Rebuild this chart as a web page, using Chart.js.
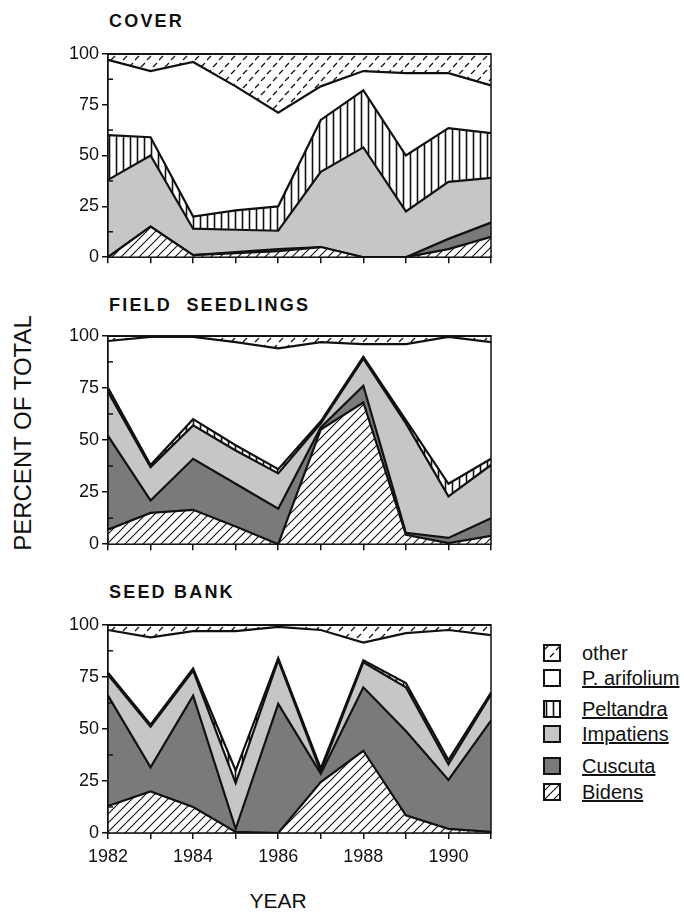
<!DOCTYPE html>
<html>
<head>
<meta charset="utf-8">
<script src="https://cdn.jsdelivr.net/npm/chart.js@4.4.1/dist/chart.umd.min.js"></script>
<style>
  body { margin: 0; width: 684px; height: 915px; background: #fff; position: relative; overflow: hidden;
         font-family: "Liberation Sans", Arial, sans-serif; color: #111; }
  canvas.panel { position: absolute; left: 50px; }
  .title { position: absolute; left: 109px; font-weight: bold; font-size: 18px; letter-spacing: 2.2px; line-height: 1; white-space: pre; }
  #ylabel { position: absolute; left: 23px; top: 433px; font-size: 24px; white-space: nowrap;
            transform: translate(-50%, -50%) rotate(-90deg); }
  #xlabel { position: absolute; left: 278px; top: 890px; font-size: 21px; line-height: 1; transform: translateX(-50%); }
  #legend { position: absolute; left: 543px; top: 643px; }
  .item { position: absolute; left: 0; height: 20px; white-space: nowrap; }
  .item canvas { position: absolute; left: 0; top: 1px; }
  .item span { position: absolute; left: 39px; top: 0; font-size: 20px; line-height: 20px; text-decoration: underline; }
</style>
</head>
<body>
<div class="title" style="top:12px">COVER</div>
<div class="title" style="top:296px">FIELD  SEEDLINGS</div>
<div class="title" style="top:583px">SEED BANK</div>
<canvas class="panel" id="coverChart" width="448" height="231" style="top:40px"></canvas>
<canvas class="panel" id="fieldChart" width="448" height="236" style="top:322px"></canvas>
<canvas class="panel" id="seedChart" width="448" height="262" style="top:611px"></canvas>
<div id="ylabel">PERCENT OF TOTAL</div>
<div id="xlabel">YEAR</div>
<div id="legend"></div>
<script>
// years on the x axis
const years = ["1982", "1983", "1984", "1985", "1986", "1987", "1988", "1989", "1990", "1991"];
// stacking order, bottom to top
const speciesNames = ["Bidens", "Cuscuta", "Impatiens", "Peltandra", "P. arifolium", "other"];

// COVER (percent of total)
const coverBidens = [0, 15, 1, 2, 3, 5, 0, 0, 4, 10];
const coverCuscuta = [0, 0, 0, 0.5, 1, 0, 0, 0, 5, 7];
const coverImpatiens = [38, 35, 13, 11, 9, 37, 54, 22.5, 28, 22];
const coverPeltandra = [22, 9, 6, 9.5, 12, 25.5, 28, 27.5, 26.5, 22];
const coverArifolium = [37, 32.5, 76, 61, 46, 16.5, 9.5, 40.5, 27, 23.5];
const coverOther = [3, 8.5, 4, 16, 29, 16, 8.5, 9.5, 9.5, 15.5];

// FIELD SEEDLINGS
const fieldBidens = [7, 15, 16.5, 8.5, 0, 55, 68, 4.5, 0.5, 4];
const fieldCuscuta = [45, 6, 24.5, 20.5, 17, 1, 8, 1, 2.5, 8.5];
const fieldImpatiens = [21, 16, 16, 16, 17, 2, 13, 52.5, 20, 25.5];
const fieldPeltandra = [2, 1, 3, 2.5, 2, 1, 1, 1.5, 6, 3];
const fieldArifolium = [22.5, 61.5, 39.5, 49.5, 58, 38, 6, 36.5, 70.5, 56];
const fieldOther = [2.5, 0.5, 0.5, 3, 6, 3, 4, 4, 0.5, 3];

// SEED BANK
const seedBidens = [13, 20, 12.5, 0.5, 0, 24.5, 39.5, 8.5, 2, 0.5];
const seedCuscuta = [53, 11.5, 53.5, 1.5, 62, 4, 30.5, 40.5, 23.5, 53.5];
const seedImpatiens = [10, 19.5, 12, 22, 21, 1, 12, 21, 7.5, 12.5];
const seedPeltandra = [1, 1, 1, 6, 1, 1.5, 1, 2, 2, 1];
const seedArifolium = [20.5, 42, 18, 67, 15, 66.5, 8.5, 24, 62.5, 27.5];
const seedOther = [2.5, 6, 3, 3, 1, 2.5, 8.5, 4, 2.5, 5];

const fontFamily = '"Liberation Sans", Arial, sans-serif';
const ink = "#111";

// fill patterns drawn on small tiles
function makeTile(w, h, draw) {
  const c = document.createElement("canvas");
  c.width = w;
  c.height = h;
  const ctx = c.getContext("2d");
  ctx.fillStyle = "#fff";
  ctx.fillRect(0, 0, w, h);
  ctx.strokeStyle = ink;
  draw(ctx);
  return ctx.createPattern(c, "repeat");
}

function line(ctx, x1, y1, x2, y2) {
  ctx.beginPath();
  ctx.moveTo(x1, y1);
  ctx.lineTo(x2, y2);
  ctx.stroke();
}

const diagFill = makeTile(9, 9, ctx => {
  ctx.lineWidth = 1.1;
  line(ctx, -1, 10, 10, -1);
  line(ctx, -2, 2, 2, -2);
  line(ctx, 7, 11, 11, 7);
});
const vertFill = makeTile(7, 7, ctx => {
  ctx.lineWidth = 1.6;
  line(ctx, 3.5, 0, 3.5, 7);
});
const dashFill = makeTile(12, 14, ctx => {
  ctx.lineWidth = 1.2;
  line(ctx, 1, 6, 5, 2);
  line(ctx, 7, 13, 11, 9);
});

const fills = [diagFill, "#7a7a7a", "#c6c6c6", vertFill, "#ffffff", dashFill];

// frame round the plot and small inward ticks between the labelled ones
const minorTicks = [12.5, 37.5, 62.5, 87.5];
const framePlugin = {
  id: "frame",
  afterDatasetsDraw(chart) {
    const { ctx, chartArea: a, scales } = chart;
    ctx.save();
    ctx.strokeStyle = ink;
    ctx.lineWidth = 1.5;
    ctx.strokeRect(a.left, a.top, a.right - a.left, a.bottom - a.top);
    minorTicks.forEach(v => {
      const py = scales.y.getPixelForValue(v);
      line(ctx, a.left, py, a.left + 5, py);
    });
    ctx.restore();
  }
};

function buildDatasets(values) {
  return speciesNames.map((name, i) => ({
    label: name,
    data: values[i],
    fill: i === 0 ? "origin" : "-1",
    backgroundColor: fills[i],
    borderColor: ink,
    borderWidth: 2.2,
    pointRadius: 0,
    tension: 0
  }));
}

function makePanel(canvasId, values, showYears, axisHeight) {
  return new Chart(document.getElementById(canvasId), {
    type: "line",
    data: { labels: years, datasets: buildDatasets(values) },
    options: {
      responsive: false,
      animation: false,
      layout: { padding: { top: 12, right: 5, bottom: 0, left: 0 } },
      plugins: { legend: { display: false }, tooltip: { enabled: false } },
      scales: {
        x: {
          grid: { drawOnChartArea: false, tickLength: 6, color: ink, lineWidth: 1.5 },
          border: { color: ink, width: 1.5 },
          ticks: {
            autoSkip: false,
            maxRotation: 0,
            padding: 7,
            color: ink,
            font: { family: fontFamily, size: 18 },
            callback: function (value, index) {
              return showYears && index % 2 === 0 ? this.getLabelForValue(value) : "";
            }
          },
          afterFit: scale => { scale.height = axisHeight; }
        },
        y: {
          stacked: true,
          min: 0,
          max: 100,
          grid: { drawOnChartArea: false, tickLength: 6, color: ink, lineWidth: 1.5 },
          border: { color: ink, width: 1.5 },
          ticks: { stepSize: 25, padding: 3, color: ink, font: { family: fontFamily, size: 18 } },
          afterFit: scale => { scale.width = 58; }
        }
      }
    },
    plugins: [framePlugin]
  });
}

makePanel("coverChart",
  [coverBidens, coverCuscuta, coverImpatiens, coverPeltandra, coverArifolium, coverOther], false, 12);
makePanel("fieldChart",
  [fieldBidens, fieldCuscuta, fieldImpatiens, fieldPeltandra, fieldArifolium, fieldOther], false, 12);
makePanel("seedChart",
  [seedBidens, seedCuscuta, seedImpatiens, seedPeltandra, seedArifolium, seedOther], true, 40);

// legend, top entry first
const legendRows = [0, 25, 56, 81, 113, 139];
const legend = document.getElementById("legend");
speciesNames.slice().reverse().forEach((name, k) => {
  const i = speciesNames.length - 1 - k;
  const item = document.createElement("div");
  item.className = "item";
  item.style.top = legendRows[k] + "px";
  const sw = document.createElement("canvas");
  sw.width = 18;
  sw.height = 18;
  const sctx = sw.getContext("2d");
  sctx.fillStyle = fills[i];
  sctx.fillRect(0, 0, 18, 18);
  sctx.strokeStyle = ink;
  sctx.lineWidth = 2;
  sctx.strokeRect(1, 1, 16, 16);
  const label = document.createElement("span");
  label.textContent = name;
  if (name === "other") label.style.textDecoration = "none";
  item.appendChild(sw);
  item.appendChild(label);
  legend.appendChild(item);
});
</script>
</body>
</html>
